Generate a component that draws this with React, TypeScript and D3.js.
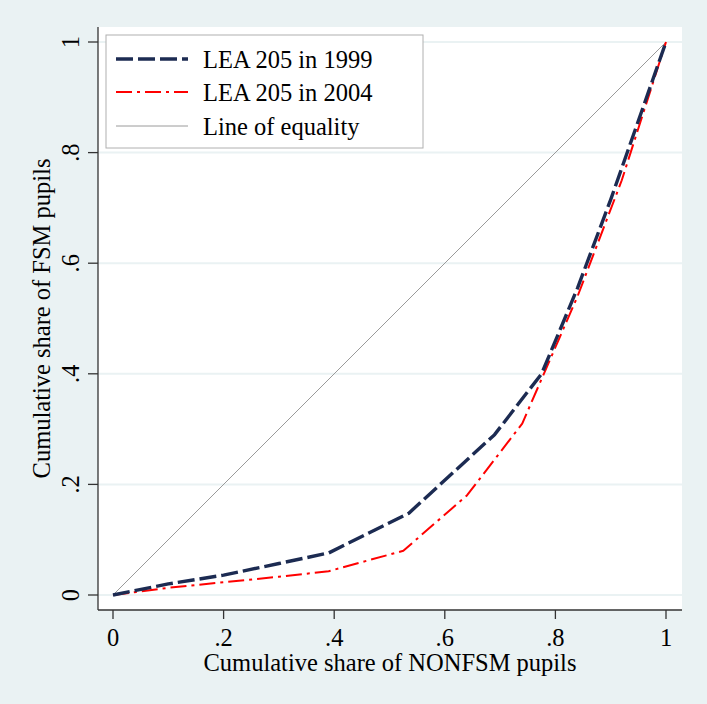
import * as d3 from "d3";

// cumulative share of NONFSM pupils (x) vs FSM pupils (y)
const lea1999X = [0, 0.1, 0.2, 0.3, 0.39, 0.535, 0.69, 0.775, 0.84, 0.9, 1];
const lea1999Y = [0, 0.02, 0.036, 0.057, 0.076, 0.148, 0.29, 0.4, 0.555, 0.715, 1];
const lea2004X = [0, 0.1, 0.2, 0.3, 0.39, 0.525, 0.64, 0.74, 0.84, 0.92, 1];
const lea2004Y = [0, 0.013, 0.023, 0.033, 0.043, 0.08, 0.18, 0.31, 0.54, 0.75, 1];
const equalityX = [0, 1];
const equalityY = [0, 1];

const ticks = [0, 0.2, 0.4, 0.6, 0.8, 1];
const tickLabels = ["0", ".2", ".4", ".6", ".8", "1"];
const legendLabels = ["LEA 205 in 1999", "LEA 205 in 2004", "Line of equality"];

const W = 707;
const H = 704;
const FONT = "'Liberation Serif', 'Times New Roman', serif";
const BG = "#eaf2f3";

export default function App() {
  const plot = { left: 98, right: 682, top: 27, bottom: 610 };
  const x = d3.scaleLinear().domain([0, 1]).range([113, 666]);
  const y = d3.scaleLinear().domain([0, 1]).range([595, 42]);

  const line = d3
    .line<[number, number]>()
    .x((d) => x(d[0]))
    .y((d) => y(d[1]));

  const zip = (xs: number[], ys: number[]) =>
    xs.map((v, i) => [v, ys[i]] as [number, number]);

  const series = [
    { pts: zip(lea1999X, lea1999Y), stroke: "#1c2b52", width: 3.4, dash: "17,5" },
    { pts: zip(lea2004X, lea2004Y), stroke: "#ff0000", width: 2, dash: "16,5,3,5" },
    { pts: zip(equalityX, equalityY), stroke: "#9a9a9a", width: 1, dash: "none" },
  ];

  const legendRows = [59, 92, 126];

  return (
    <svg
      width={W}
      height={H}
      style={{ position: "absolute", left: 0, top: 0 }}
      fontFamily={FONT}
    >
      <rect x={0} y={0} width={W} height={H} fill={BG} />
      <rect
        x={plot.left}
        y={plot.top}
        width={plot.right - plot.left}
        height={plot.bottom - plot.top}
        fill="#fff"
      />

      {ticks.map((t) => (
        <line
          key={"g" + t}
          x1={plot.left}
          x2={plot.right}
          y1={y(t)}
          y2={y(t)}
          stroke={BG}
          strokeWidth={2}
        />
      ))}

      {/* series drawn in reverse so the equality line sits underneath */}
      {[...series].reverse().map((s, i) => (
        <path
          key={"s" + i}
          d={line(s.pts) || ""}
          fill="none"
          stroke={s.stroke}
          strokeWidth={s.width}
          strokeDasharray={s.dash}
          strokeLinecap="butt"
          strokeLinejoin="round"
        />
      ))}

      {/* axes */}
      <line x1={plot.left} x2={plot.left} y1={plot.top} y2={plot.bottom} stroke="#333" strokeWidth={1.3} />
      <line x1={plot.left} x2={plot.right} y1={plot.bottom} y2={plot.bottom} stroke="#333" strokeWidth={1.3} />

      {ticks.map((t, i) => (
        <g key={"y" + t}>
          <line x1={88} x2={plot.left} y1={y(t)} y2={y(t)} stroke="#333" strokeWidth={1.3} />
          <text
            transform={`translate(79,${y(t)}) rotate(-90)`}
            textAnchor="middle"
            fontSize={24.5}
            fill="#000"
          >
            {tickLabels[i]}
          </text>
        </g>
      ))}

      {ticks.map((t, i) => (
        <g key={"x" + t}>
          <line x1={x(t)} x2={x(t)} y1={plot.bottom} y2={619} stroke="#333" strokeWidth={1.3} />
          <text x={x(t)} y={646} textAnchor="middle" fontSize={24.5} fill="#000">
            {tickLabels[i]}
          </text>
        </g>
      ))}

      <text
        x={(plot.left + plot.right) / 2}
        y={671}
        textAnchor="middle"
        fontSize={24.5}
        fill="#000"
      >
        Cumulative share of NONFSM pupils
      </text>
      <text
        transform={`translate(50,${(plot.top + plot.bottom) / 2}) rotate(-90)`}
        textAnchor="middle"
        fontSize={24.5}
        fill="#000"
      >
        Cumulative share of FSM pupils
      </text>

      {/* legend */}
      <rect x={106} y={35} width={317} height={113} fill="#fff" stroke="#b0b0b0" strokeWidth={1} />
      {series.map((s, i) => (
        <g key={"l" + i}>
          <line
            x1={116}
            x2={188}
            y1={legendRows[i]}
            y2={legendRows[i]}
            stroke={s.stroke}
            strokeWidth={s.width}
            strokeDasharray={s.dash}
          />
          <text x={203} y={legendRows[i] + 9} fontSize={24.5} fill="#000">
            {legendLabels[i]}
          </text>
        </g>
      ))}
    </svg>
  );
}
